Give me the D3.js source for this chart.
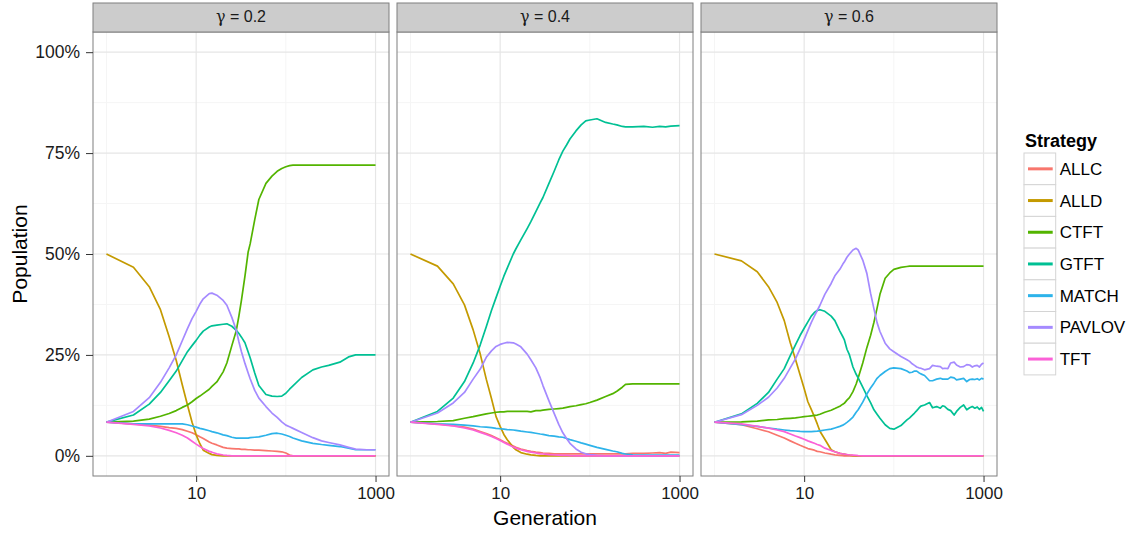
<!DOCTYPE html>
<html>
<head>
<meta charset="utf-8">
<script src="https://cdn.jsdelivr.net/npm/d3@7"></script>
<style>
  body { margin: 0; background: #fff; }
  svg { font-family: "Liberation Sans", Arial, sans-serif; }
</style>
</head>
<body>
<div id="chart"></div>
<script>
// generations sampled for each panel (log x axis)
const GEN_02 = [1,2,3,4,5,6,7,8,9,10,11,12, 14,15,17,20,22,25,28,30,32,35,38,40,
                45,50,60,70,80,90,100,110,120, 150,200,250,300,400,500,600,800,1000];
const GEN_04 = [1,2,3,4,5,6,7,8,9,10,11,12, 14,15,17,20,22,25,28,30,35,40,45,50,
                55,60,70,80,90,100,120,150,180, 200,230,250,300,400,500,600,700,800,1000];
const GEN_06 = [1,2,3,4,5,6,7,8,9,10,11,12, 13,14,15,17,20,22,25,27,28,30,32,35,
                38,40,45,50,55,60,65,70,80,90,100,120, 140,150,160,170,180,190,200,220,250,270,300,330,
                350,370,400,430,470,500,550,600,650,700,750,800, 850,900,950,1000];

// population share (%) -- gamma = 0.2
const ALLC_02   = [8.33,7.9,7.6,7.3,7.0,6.8,6.5,6.1,5.7,5.2,4.7,4.3, 3.4,3.1,2.7,2.1,1.9,1.8,1.7,1.7,1.6,1.6,1.5,1.5,
                   1.4,1.4,1.3,1.2,1.1,1.0,0.7,0.2,0, 0,0,0,0,0,0,0,0,0];
const ALLD_02   = [50,46.7,41.9,36.2,29.5,23.6,17.6,12.6,8.3,5.2,3.0,1.4, 0.6,0.3,0.1,0,0,0,0,0,0,0,0,0,
                   0,0,0,0,0,0,0,0,0, 0,0,0,0,0,0,0,0,0];
const CTFT_02   = [8.33,8.6,9.1,9.8,10.5,11.2,12.0,12.6,13.4,14.2,14.8,15.4, 16.5,17.2,18.3,20.8,23.0,27.3,31.0,34.7,38.6,44.5,50.5,52.5,
                   58.5,63.5,67.5,69.3,70.5,71.2,71.6,71.9,72.0, 72,72,72,72,72,72,72,72,72];
const GTFT_02   = [8.33,10.1,12.8,15.7,18.6,21.0,23.6,25.8,27.3,28.6,29.9,30.9, 31.9,32.2,32.4,32.6,32.7,32.1,31.1,30.3,29.4,28.0,25.7,24.3,
                   20.5,17.4,15.2,14.8,14.7,14.8,15.5,16.5,17.3, 19.4,21.3,22.0,22.4,23.2,24.5,25.0,25.0,25.0];
const MATCH_02  = [8.33,7.9,7.9,7.9,7.9,7.9,7.9,7.7,7.4,7.1,6.8,6.6, 6.2,6.0,5.7,5.2,5.0,4.6,4.4,4.4,4.4,4.4,4.4,4.5,
                   4.6,4.7,5.1,5.5,5.6,5.4,5.1,4.8,4.4, 3.7,3.1,2.8,2.6,2.3,1.9,1.5,1.5,1.5];
const PAVLOV_02 = [8.33,11.0,14.4,18.2,21.8,25.0,28.5,31.5,34.0,35.8,37.6,38.9, 40.2,40.3,39.8,38.5,37.3,34.3,31.1,28.2,25.8,22.9,20.5,19.1,
                   16.2,14.3,12.2,10.6,9.5,8.4,7.6,7.2,6.8, 5.8,4.5,3.7,3.3,2.7,2.1,1.65,1.5,1.5];
const TFT_02    = [8.33,7.8,7.4,6.9,6.3,5.7,5.1,4.4,3.6,2.9,2.3,1.8, 1.1,0.9,0.5,0.2,0.1,0,0,0,0,0,0,0,
                   0,0,0,0,0,0,0,0,0, 0,0,0,0,0,0,0,0,0];

// gamma = 0.4
const ALLC_04   = [8.33,7.9,7.5,7.1,6.6,6.0,5.5,5.0,4.5,4.0,3.5,3.1, 2.4,2.1,1.7,1.3,1.1,0.9,0.8,0.7,0.6,0.5,0.5,0.5,
                   0.5,0.5,0.5,0.5,0.5,0.5,0.5,0.5,0.5, 0.5,0.5,0.5,0.6,0.6,0.7,0.8,0.6,0.9,0.8];
const ALLD_04   = [50,47.0,42.6,37.4,31.2,25.2,19.0,14.2,9.7,7.3,5.3,4.0, 2.1,1.5,0.8,0.4,0.25,0.1,0,0,0,0,0,0,
                   0,0,0,0,0,0,0,0,0, 0,0,0,0,0,0,0,0,0,0];
const CTFT_04   = [8.33,8.5,8.7,9.3,9.7,10.1,10.4,10.6,10.8,10.9,10.9,11.0, 11.0,11.0,11.0,11.0,10.9,11.2,11.2,11.3,11.5,11.6,11.7,11.8,
                   12.0,12.2,12.4,12.7,12.9,13.2,13.8,14.7,15.4, 16.0,17.0,17.7,17.8,17.8,17.8,17.8,17.8,17.8,17.8];
const GTFT_04   = [8.33,11.0,14.3,18.4,23.0,27.5,32.0,36.0,39.2,42.0,44.5,46.5, 50.0,51.3,53.5,56.3,58.0,60.5,62.7,64.0,67.5,70.5,73.3,75.5,
                   77.0,78.5,80.5,82.0,83.0,83.2,83.5,82.6,82.2, 82.0,81.6,81.5,81.5,81.6,81.4,81.6,81.5,81.7,81.8];
const MATCH_04  = [8.33,7.9,7.8,7.6,7.4,7.2,7.1,7.0,6.8,6.7,6.6,6.5, 6.4,6.3,6.1,5.9,5.8,5.6,5.4,5.3,5.0,4.9,4.7,4.6,
                   4.3,4.0,3.6,3.2,2.9,2.6,2.1,1.6,1.2, 1.0,0.6,0.45,0.25,0.2,0.2,0.2,0.2,0.2,0.2];
const PAVLOV_04 = [8.33,10.6,13.1,15.7,19.0,21.5,24.4,26.0,27.1,27.6,27.9,28.1, 28.0,27.7,27.0,25.2,23.8,21.8,19.3,17.4,13.6,10.5,7.8,5.7,
                   4.3,3.1,1.7,0.9,0.5,0.3,0.1,0,0, 0,0,0,0,0,0,0,0,0,0];
const TFT_04    = [8.33,7.8,7.4,6.9,6.4,5.8,5.3,4.8,4.3,3.8,3.3,2.9, 2.2,1.9,1.5,1.1,0.9,0.7,0.5,0.45,0.3,0.2,0.15,0.1,
                   0.1,0.05,0,0,0,0,0,0,0, 0,0,0,0,0,0,0,0,0,0];

// gamma = 0.6
const ALLC_06   = [8.33,7.7,6.7,5.95,5.1,4.4,3.7,3.1,2.6,2.2,1.8,1.6, 1.4,1.1,1.0,0.7,0.4,0.25,0.1,0.05,0,0,0,0,
                   0,0,0,0,0,0,0,0,0,0,0,0, 0,0,0,0,0,0,0,0,0,0,0,0, 0,0,0,0,0,0,0,0,0,0,0,0, 0,0,0,0];
const ALLD_06   = [50,48.3,45.6,41.9,38.0,33.5,28.0,23.9,20.1,16.7,13.4,11.5, 9.7,7.9,6.1,4.1,1.5,1.0,0.6,0.45,0.4,0.25,0.15,0.05,
                   0,0,0,0,0,0,0,0,0,0,0,0, 0,0,0,0,0,0,0,0,0,0,0,0, 0,0,0,0,0,0,0,0,0,0,0,0, 0,0,0,0];
const CTFT_06   = [8.33,8.4,8.6,8.9,9.0,9.2,9.3,9.4,9.55,9.7,9.8,9.9, 10.0,10.1,10.3,10.8,11.3,11.7,12.3,12.8,13.0,13.8,14.4,15.9,
                   17.8,19.3,23.0,26.8,29.8,33.1,36.6,40.0,44.0,45.3,46.2,46.7, 46.9,47,47,47,47,47,47,47,47,47,47,47,
                   47,47,47,47,47,47,47,47,47,47,47,47, 47,47,47,47];
const GTFT_06   = [8.33,10.4,13.0,15.7,19.0,21.6,24.8,27.5,29.8,31.6,33.2,34.6, 35.5,36.0,36.2,35.8,34.6,33.5,30.9,29.5,28.8,26.4,25.0,22.0,
                   20.2,19.3,17.0,14.9,13.2,11.4,10.3,9.3,7.7,6.8,6.6,7.5, 8.9,9.4,10.0,10.6,11.2,11.8,12.3,12.6,13.2,11.9,12.2,11.8,
                   12.4,12.2,11.5,11.2,10.1,11.0,12.0,12.6,11.4,11.9,12.2,11.8, 12.1,11.5,12.0,11.0];
const MATCH_06  = [8.33,7.7,7.3,6.9,6.6,6.4,6.25,6.15,6.05,6.0,6.0,6.0, 6.05,6.1,6.2,6.4,6.6,6.9,7.3,7.6,7.8,8.3,8.8,9.6,
                   10.8,11.4,13.3,15.3,16.8,18.0,19.2,19.9,20.9,21.6,21.8,21.6, 21.0,20.6,20.7,21.0,21.0,20.6,20.3,19.9,18.6,18.6,19.0,19.2,
                   19.0,19.0,19.0,19.5,19.3,18.8,19.0,19.2,18.4,18.9,19.0,18.9, 19.1,18.8,19.2,19.0];
const PAVLOV_06 = [8.33,10.2,12.5,14.5,16.8,19.2,21.8,24.0,26.5,28.8,31.0,33.0, 34.6,36.0,37.3,40.0,42.7,44.6,46.2,47.5,48.0,49.2,50.0,51.0,
                   51.4,51.0,48.5,45.2,40.3,36.4,33.0,30.8,27.9,26.5,25.8,24.6, 23.8,23.4,22.8,22.4,22.0,21.8,21.7,21.3,21.6,22.4,22.2,22.1,
                   21.6,21.7,21.6,23.0,23.2,22.5,22.0,22.1,22.6,22.5,22.0,22.3, 22.4,22.0,22.7,23.0];
const TFT_06    = [8.33,7.9,7.3,6.85,6.4,6.0,5.4,4.9,4.5,4.1,3.7,3.4, 3.1,2.8,2.6,1.9,1.3,1.0,0.6,0.45,0.4,0.3,0.2,0.15,
                   0.1,0.05,0,0,0,0,0,0,0,0,0,0, 0,0,0,0,0,0,0,0,0,0,0,0, 0,0,0,0,0,0,0,0,0,0,0,0, 0,0,0,0];

const STRATEGIES = ["ALLC", "ALLD", "CTFT", "GTFT", "MATCH", "PAVLOV", "TFT"];
const COLORS = ["#F8766D", "#C49A00", "#53B400", "#00C094", "#2DB3EA", "#A58AFF", "#FB61D7"];
const GAMMAS = ["0.2", "0.4", "0.6"];
const Y_TICKS = [0, 25, 50, 75, 100];
const Y_LABELS = ["0%", "25%", "50%", "75%", "100%"];
const Y_MINOR = [12.5, 37.5, 62.5, 87.5];
const X_TICKS = [10, 1000];
const X_MINOR = [1, 100];

const WIDTH = 1134, HEIGHT = 533;
const PANEL_LEFT = [93, 397, 701];
const PANEL_TOP = 32;
const PANEL_W = 296;
const PANEL_H = 444;
const STRIP_TOP = 3;

const PANELS = [
  { gen: GEN_02, series: [ALLC_02, ALLD_02, CTFT_02, GTFT_02, MATCH_02, PAVLOV_02, TFT_02] },
  { gen: GEN_04, series: [ALLC_04, ALLD_04, CTFT_04, GTFT_04, MATCH_04, PAVLOV_04, TFT_04] },
  { gen: GEN_06, series: [ALLC_06, ALLD_06, CTFT_06, GTFT_06, MATCH_06, PAVLOV_06, TFT_06] }
];

const svg = d3.select("#chart").append("svg")
  .attr("width", WIDTH)
  .attr("height", HEIGHT);

// log x with ggplot style 5% expansion on each side
const xScale = d3.scaleLog()
  .domain([Math.pow(10, -0.15), Math.pow(10, 3.15)])
  .range([0, PANEL_W]);
const yScale = d3.scaleLinear()
  .domain([-5, 105])
  .range([PANEL_H, 0]);

const line = d3.line()
  .x(d => xScale(d[0]))
  .y(d => yScale(d[1]));

PANELS.forEach((panel, p) => {
  const g = svg.append("g")
    .attr("transform", "translate(" + PANEL_LEFT[p] + "," + PANEL_TOP + ")");

  // strip
  svg.append("rect")
    .attr("x", PANEL_LEFT[p]).attr("y", STRIP_TOP)
    .attr("width", PANEL_W).attr("height", PANEL_TOP - STRIP_TOP)
    .style("fill", "#cccccc").style("stroke", "#7f7f7f").style("stroke-width", 1);
  const strip = svg.append("text")
    .attr("x", PANEL_LEFT[p] + PANEL_W / 2)
    .attr("y", 22)
    .attr("text-anchor", "middle")
    .style("font-size", "16px")
    .style("fill", "#1a1a1a");
  strip.append("tspan").style("font-family", "DejaVu Serif, serif").text("\u03B3");
  strip.append("tspan").text(" = " + GAMMAS[p]);

  // grid
  g.selectAll(".yminor").data(Y_MINOR).enter().append("line")
    .attr("x1", 0).attr("x2", PANEL_W)
    .attr("y1", d => yScale(d)).attr("y2", d => yScale(d))
    .style("stroke", "#f5f5f5").style("stroke-width", 1);
  g.selectAll(".xminor").data(X_MINOR).enter().append("line")
    .attr("y1", 0).attr("y2", PANEL_H)
    .attr("x1", d => xScale(d)).attr("x2", d => xScale(d))
    .style("stroke", "#f5f5f5").style("stroke-width", 1);
  g.selectAll(".ymajor").data(Y_TICKS).enter().append("line")
    .attr("x1", 0).attr("x2", PANEL_W)
    .attr("y1", d => yScale(d)).attr("y2", d => yScale(d))
    .style("stroke", "#e6e6e6").style("stroke-width", 1.2);
  g.selectAll(".xmajor").data(X_TICKS).enter().append("line")
    .attr("y1", 0).attr("y2", PANEL_H)
    .attr("x1", d => xScale(d)).attr("x2", d => xScale(d))
    .style("stroke", "#e6e6e6").style("stroke-width", 1.2);

  // lines
  panel.series.forEach((vals, s) => {
    const pts = panel.gen.map((gen, i) => [gen, vals[i]]).filter(d => d[1] !== undefined);
    g.append("path")
      .datum(pts)
      .attr("d", line)
      .style("fill", "none")
      .style("stroke", COLORS[s])
      .style("stroke-width", 1.7)
      .style("stroke-linejoin", "round");
  });

  // border
  g.append("rect")
    .attr("width", PANEL_W).attr("height", PANEL_H)
    .style("fill", "none").style("stroke", "#7f7f7f").style("stroke-width", 1);

  // x axis
  const xAxis = d3.axisBottom(xScale)
    .tickValues(X_TICKS)
    .tickFormat(d3.format("d"))
    .tickSizeInner(6).tickSizeOuter(0).tickPadding(5);
  const xg = g.append("g")
    .attr("transform", "translate(0," + PANEL_H + ")")
    .call(xAxis);
  xg.select(".domain").remove();
  xg.selectAll("line").style("stroke", "#333").style("stroke-width", 1);
  xg.selectAll("text").style("font-size", "17px").style("fill", "#1a1a1a")
    .style("font-family", "Liberation Sans, Arial, sans-serif");
});

// y axis on first panel
const yAxis = d3.axisLeft(yScale)
  .tickValues(Y_TICKS)
  .tickFormat((d, i) => Y_LABELS[i])
  .tickSizeInner(7).tickSizeOuter(0).tickPadding(6);
const yg = svg.append("g")
  .attr("transform", "translate(" + PANEL_LEFT[0] + "," + PANEL_TOP + ")")
  .call(yAxis);
yg.select(".domain").remove();
yg.selectAll("line").style("stroke", "#333").style("stroke-width", 1);
yg.selectAll("text").style("font-size", "17.5px").style("fill", "#1a1a1a")
  .style("font-family", "Liberation Sans, Arial, sans-serif");

// axis titles
svg.append("text")
  .attr("x", (PANEL_LEFT[0] + PANEL_LEFT[2] + PANEL_W) / 2)
  .attr("y", 525)
  .attr("text-anchor", "middle")
  .style("font-size", "21px")
  .text("Generation");
svg.append("text")
  .attr("transform", "translate(27," + (PANEL_TOP + PANEL_H / 2) + ") rotate(-90)")
  .attr("text-anchor", "middle")
  .style("font-size", "21px")
  .text("Population");

// legend
const KEY = 31.7;
const legend = svg.append("g")
  .attr("transform", "translate(1024,153)");
legend.append("text")
  .attr("x", 1).attr("y", -6)
  .style("font-size", "18px")
  .style("font-weight", "bold")
  .text("Strategy");
const items = legend.selectAll(".key")
  .data(STRATEGIES)
  .enter().append("g")
  .attr("transform", (d, i) => "translate(0," + i * KEY + ")");
items.append("rect")
  .attr("width", KEY).attr("height", KEY)
  .style("fill", "#fff").style("stroke", "#d4d4d4").style("stroke-width", 1);
items.append("line")
  .attr("x1", 4).attr("x2", KEY - 3)
  .attr("y1", KEY / 2).attr("y2", KEY / 2)
  .style("stroke", (d, i) => COLORS[i])
  .style("stroke-width", 3);
items.append("text")
  .attr("x", KEY + 4)
  .attr("y", KEY / 2 + 6)
  .style("font-size", "17px")
  .text(d => d);
</script>
</body>
</html>
